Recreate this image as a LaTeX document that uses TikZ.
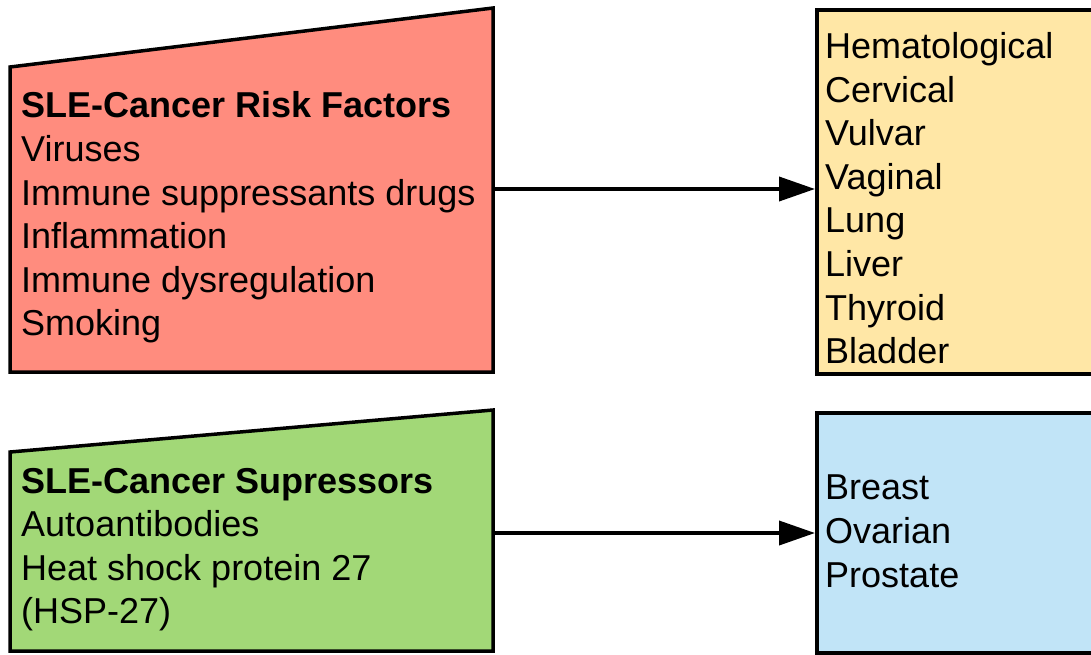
\documentclass[tikz,border=0pt]{standalone}
\usepackage{fontspec}
\setmainfont{Liberation Sans}
\usetikzlibrary{arrows.meta}
\definecolor{redfill}{HTML}{FF8C7E}
\definecolor{yellowfill}{HTML}{FFE7A6}
\definecolor{greenfill}{HTML}{A2D877}
\definecolor{bluefill}{HTML}{C1E4F7}
\tikzset{
  shapeline/.style={draw=black, line width=3.5pt, line join=miter},
  boxtext/.style={anchor=north west, inner sep=0pt, align=left,
    font=\fontsize{36}{43.6}\selectfont},
  arr/.style={line width=3.8pt, -{Triangle[length=36pt,width=24pt]}},
}
\begin{document}
\begin{tikzpicture}[x=1pt,y=-1pt]
\useasboundingbox (0,0) rectangle (1091,654);
% left shapes
\draw[shapeline, fill=redfill] (10,67) -- (493,8) -- (493,372) -- (10,372) -- cycle;
\coordinate (redR) at (493,189);
\draw[shapeline, fill=greenfill] (10,452) -- (493,410) -- (493,651) -- (10,651) -- cycle;
\coordinate (greenR) at (493,533);
% right boxes
\node[shapeline, fill=yellowfill, rectangle, anchor=north west, minimum width=290pt, minimum height=364pt, inner sep=0pt] (yellow) at (815,8) {};
\node[shapeline, fill=bluefill, rectangle, anchor=north west, minimum width=290pt, minimum height=240pt, inner sep=0pt] (blue) at (815,411) {};
% texts
\node[boxtext] (redtext) at (21,91.7) {\textbf{SLE-Cancer Risk Factors}\\Viruses\\Immune suppressants drugs\\Inflammation\\Immune dysregulation\\Smoking};
\node[boxtext] (greentext) at (21,467.7) {\textbf{SLE-Cancer Supressors}\\Autoantibodies\\Heat shock protein 27\\(HSP-27)};
\node[boxtext] (yellowtext) at (825,32.3) {Hematological\\Cervical\\Vulvar\\Vaginal\\Lung\\Liver\\Thyroid\\Bladder};
\node[boxtext] (bluetext) at (825,475) {Breast\\Ovarian\\Prostate};
% arrows
\draw[arr] (redR) -- (yellow.west |- redR);
\draw[arr] (greenR) -- (blue.west |- greenR);
\end{tikzpicture}
\end{document}
